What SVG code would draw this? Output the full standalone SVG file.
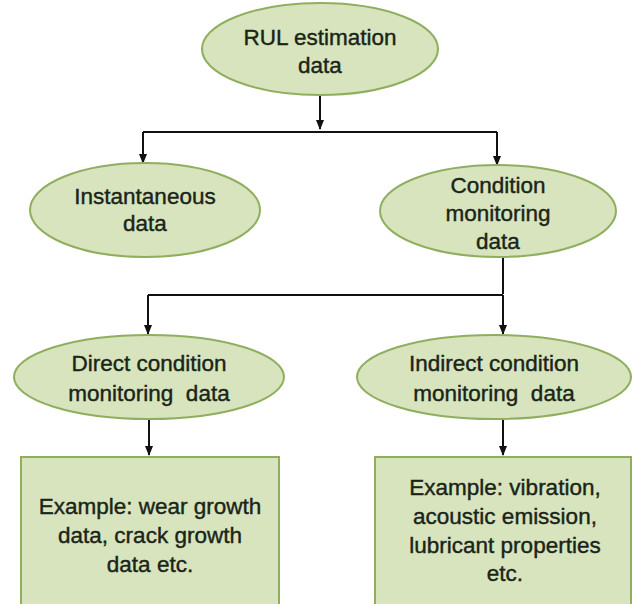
<svg xmlns="http://www.w3.org/2000/svg" width="633" height="604" viewBox="0 0 633 604">
<defs>
<marker id="ah" viewBox="0 0 10 10" refX="9" refY="5" markerWidth="5" markerHeight="5" orient="auto">
<path d="M0,1 L10,5 L0,9 z" fill="#111"/>
</marker>
<style>
.n{fill:#d7e4bd;stroke:#8fae5e;stroke-width:2}
.t{font-family:"Liberation Sans",Arial,sans-serif;font-size:22.5px;fill:#1a2418;stroke:#1a2418;stroke-width:0.4;text-anchor:middle}
.c{fill:none;stroke:#111;stroke-width:2}
</style>
</defs>
<rect width="633" height="604" fill="#fff"/>
<g id="connectors">
<path class="c" d="M320,95 V129" marker-end="url(#ah)"/>
<path class="c" d="M143,132 H497"/>
<path class="c" d="M143,132 V163" marker-end="url(#ah)"/>
<path class="c" d="M497,132 V165" marker-end="url(#ah)"/>
<path class="c" d="M503,257 V294"/>
<path class="c" d="M148,295 H503"/>
<path class="c" d="M148,295 V334" marker-end="url(#ah)"/>
<path class="c" d="M503,295 V334" marker-end="url(#ah)"/>
<path class="c" d="M149,420 V455" marker-end="url(#ah)"/>
<path class="c" d="M503,420 V455" marker-end="url(#ah)"/>
</g>
<g id="rul">
<ellipse class="n" cx="320" cy="49" rx="118" ry="46"/>
<text class="t" x="320" y="45">RUL estimation</text>
<text class="t" x="320" y="73">data</text>
</g>
<g id="instantaneous">
<ellipse class="n" cx="145" cy="210" rx="115" ry="47"/>
<text class="t" x="145" y="204">Instantaneous</text>
<text class="t" x="145" y="231">data</text>
</g>
<g id="condition">
<ellipse class="n" cx="498" cy="211" rx="118" ry="46"/>
<text class="t" x="498" y="193">Condition</text>
<text class="t" x="498" y="221">monitoring</text>
<text class="t" x="498" y="249">data</text>
</g>
<g id="direct">
<ellipse class="n" cx="149" cy="377" rx="135" ry="42"/>
<text class="t" x="149" y="371">Direct condition</text>
<text class="t" x="149" y="401" xml:space="preserve">monitoring  data</text>
</g>
<g id="indirect">
<ellipse class="n" cx="494" cy="377" rx="137" ry="42"/>
<text class="t" x="494" y="371">Indirect condition</text>
<text class="t" x="494" y="401" xml:space="preserve">monitoring  data</text>
</g>
<g id="direct-example">
<rect class="n" x="21" y="457" width="258" height="160"/>
<text class="t" x="150" y="514">Example: wear growth</text>
<text class="t" x="150" y="543">data, crack growth</text>
<text class="t" x="150" y="572">data etc.</text>
</g>
<g id="indirect-example">
<rect class="n" x="375" y="457" width="256" height="160"/>
<text class="t" x="505" y="495">Example: vibration,</text>
<text class="t" x="505" y="524">acoustic emission,</text>
<text class="t" x="505" y="553">lubricant properties</text>
<text class="t" x="505" y="581">etc.</text>
</g>
</svg>
